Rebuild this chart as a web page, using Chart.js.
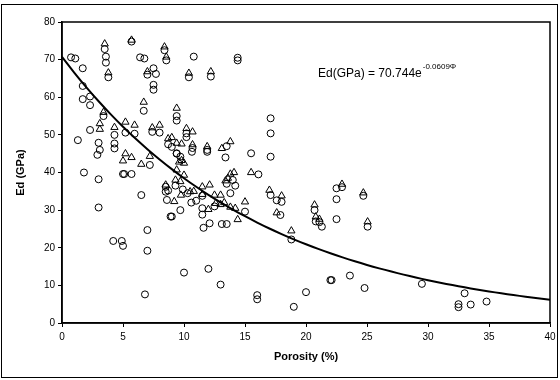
<!DOCTYPE html>
<html>
<head>
<meta charset="utf-8">
<script src="https://cdn.jsdelivr.net/npm/chart.js@4.4.1/dist/chart.umd.min.js"></script>
<style>
html,body{margin:0;padding:0;background:#fff;}
#wrap{position:relative;width:560px;height:380px;}
</style>
</head>
<body>
<div id="wrap"><canvas id="c" width="560" height="380"></canvas></div>
<script>
// Circles series (porosity %, Ed GPa)
const circleX = [0.74,1.09,1.7,1.7,1.7,2.3,2.3,1.3,2.3,3.4,3.5,3.6,3.6,3.8,4.3,4.3,4.3,3.0,3.1,2.9,5.2,5.95,5.7,6.4,6.75,7.0,7.5,7.7,7.5,7.5,6.7,8.4,8.55,7.4,8.0,1.8,3.0,3.0,4.2,4.9,5.0,5.0,5.1,5.7,7.2,6.5,7.0,7.0,6.8,8.5,8.5,8.6,8.9,9.4,9.7,10.65,11.9,13.4,15.5,17.1,9.7,9.0,11.0,10.6,11.5,11.5,12.1,11.6,13.1,13.5,15.0,17.1,17.6,18.0,18.8,10.0,12.0,13.0,16.0,16.0,8.7,9.3,9.9,11.5,13.5,14.0,14.2,13.8,12.5,10.3,10.8,10.4,12.2,14.4,14.4,9.4,9.4,17.1,17.1,10.2,10.2,13.5,11.9,10.7,9.4,8.7,9.0,16.1,17.9,19.0,20.0,20.7,20.8,21.1,21.3,22.5,22.5,22.5,22.95,22.0,22.1,23.6,24.8,24.7,25.05,29.5,33.0,32.5,32.5,33.5,34.8];
const circleY = [70.6,70.3,67.7,63,59.5,60.2,57.9,48.6,51.3,55.0,72.8,70.8,69.2,65.3,50,47.7,46.4,47.9,46.0,44.7,50.6,50.3,74.8,70.6,70.3,66.0,67.7,66.2,63.3,62.0,56.4,72.5,69.8,50.8,50.6,40,38.2,30.7,21.8,21.8,20.5,39.6,39.6,39.6,42.0,34,24.7,19.2,7.6,36.2,34.9,32.7,28.3,45.1,44.2,45.5,45.5,44,45.1,44.2,30,28.3,32.5,32,30.5,28.8,26.5,25.3,26.3,26.3,29.6,34,32.6,32.2,22.2,13.4,14.4,10.2,7.4,6.3,35.2,36.5,35.5,33.8,37,38,36.5,34.5,31,34.5,70.8,65.3,65.5,70.5,69.8,55,53.8,54.4,50.4,50.4,49.4,47,46,46.5,45,47.5,46.8,39.5,28.7,4.3,8.2,30,27,26.8,25.6,35.8,32.9,27.6,36.1,11.4,11.4,12.6,9.3,33.8,25.6,10.4,7.9,5.0,4.2,4.9,5.7];
// Triangles series
const triX = [3.1,3.1,3.4,3.5,3.8,4.3,5.2,5.95,5.7,7.0,6.7,8.4,8.55,7.4,8.0,5.2,5.0,5.7,6.5,7.2,9.6,9.8,10.0,9.4,8.5,9.3,9.7,10,9.2,9.75,10.5,10.8,11.5,11.5,12.0,12.1,12.5,13.0,12.6,13.0,13.3,13.4,13.8,14.1,13.6,13.8,14.2,14.4,15.0,15.5,17.0,18.0,17.6,18.8,10.4,12.2,9.4,10.2,10.7,8.7,9.0,13.8,13.1,11.9,10.7,9.4,9.8,20.7,20.8,21.1,22.95,24.7,25.05];
const triY = [53,51.5,56,74.2,66.5,52,53.4,52.6,75.2,66.8,58.7,73.4,70.7,51.9,52.6,45,43.1,44,42.2,44.3,42.8,43.2,42.5,40.7,36.7,38,37.6,39.3,32.3,34,34.9,35,36.2,34.2,30.2,36.7,34,34,31.8,31.5,32,37.8,39.6,40,38.5,30.8,30.5,27.5,32.2,40,35.3,33.8,29.3,24.5,66.4,66.8,57.1,51.7,50.8,49,49.3,48.2,46.4,46.9,47.4,47.8,47.6,31.4,28.2,27.6,36.9,34.6,26.9];
// Trendline coefficients shown on the chart: Ed = A * exp(B * porosity)
const fitA = 70.744;
const fitB = -0.0609;
const fitXs = [0,1,2,3,4,5,6,7,8,9,10,11,12,13,14,15,16,17,18,19,20,21,22,23,24,25,26,27,28,29,30,31,32,33,34,35,36,37,38,39,40];
const xTicks = [0,5,10,15,20,25,30,35,40];
const yTicks = [0,10,20,30,40,50,60,70,80];
const xTitle = 'Porosity (%)';
const yTitle = 'Ed (GPa)';

const toPts = (xs, ys) => xs.map((x,i)=>({x:x, y:ys[i]}));
const fitPts = fitXs.map(x=>({x:x, y: fitA*Math.exp(fitB*x)}));

const FONT = "'Liberation Sans', Arial, sans-serif";

const framePlugin = {
  id:'frame',
  beforeDraw(chart){
    const ctx = chart.ctx;
    ctx.save();
    ctx.fillStyle = '#fff';
    ctx.fillRect(0,0,chart.width,chart.height);
    ctx.strokeStyle = '#000';
    ctx.lineWidth = 1;
    ctx.strokeRect(1.5,4.5,556,373);
    ctx.restore();
  },
  afterDatasetsDraw(chart){
    const ctx = chart.ctx;
    const a = chart.chartArea;
    ctx.save();
    ctx.strokeStyle = '#000';
    ctx.lineWidth = 1.5;
    ctx.strokeRect(a.left, a.top, a.right-a.left, a.bottom-a.top);
    // equation
    ctx.fillStyle = '#000';
    ctx.textBaseline = 'alphabetic';
    ctx.font = '12px ' + FONT;
    const main = 'Ed(GPa) = 70.744e';
    ctx.fillText(main, 318, 77);
    const w = ctx.measureText(main).width;
    ctx.font = '8px ' + FONT;
    ctx.fillText('-0.0609\u03A6', 318 + w + 1, 69);
    ctx.restore();
  }
};

new Chart(document.getElementById('c'), {
  type:'scatter',
  data:{
    datasets:[
      {label:'triangles', data: toPts(triX,triY), pointStyle:'triangle', pointRadius:4.2, backgroundColor:'rgba(255,255,255,0)', borderColor:'#000', borderWidth:1, order:2},
      {label:'circles', data: toPts(circleX,circleY), pointStyle:'circle', pointRadius:3.5, backgroundColor:'rgba(255,255,255,0)', borderColor:'#000', borderWidth:1, order:3},
      {label:'fit', type:'line', data: fitPts, borderColor:'#000', borderWidth:2, pointRadius:0, fill:false, tension:0.4, order:1}
    ]
  },
  options:{
    responsive:false,
    animation:false,
    events:[],
    layout:{padding:{left:0, top:22, right:10, bottom:0}},
    plugins:{legend:{display:false}, tooltip:{enabled:false}},
    scales:{
      x:{
        type:'linear', min:0, max:40,
        afterBuildTicks(s){ s.ticks = xTicks.map(v=>({value:v})); },
        afterFit(s){ s.height = 57; },
        grid:{display:true, drawOnChartArea:false, drawTicks:true, tickLength:4, color:'#000'},
        border:{display:true, color:'#000', width:1.5},
        ticks:{color:'#000', font:{family:FONT, size:10}, padding:4, maxRotation:0},
        title:{display:true, text:xTitle, color:'#000', font:{family:FONT, size:11, weight:'bold'}, padding:{top:4, bottom:16}}
      },
      y:{
        type:'linear', min:0, max:80,
        afterBuildTicks(s){ s.ticks = yTicks.map(v=>({value:v})); },
        afterFit(s){ s.width = 62; },
        grid:{display:true, drawOnChartArea:false, drawTicks:true, tickLength:4, color:'#000'},
        border:{display:true, color:'#000', width:1.5},
        ticks:{color:'#000', font:{family:FONT, size:10}, padding:3},
        title:{display:true, text:yTitle, color:'#000', font:{family:FONT, size:11, weight:'bold'}, padding:{top:14, bottom:0}}
      }
    }
  },
  plugins:[framePlugin]
});
</script>
</body>
</html>
